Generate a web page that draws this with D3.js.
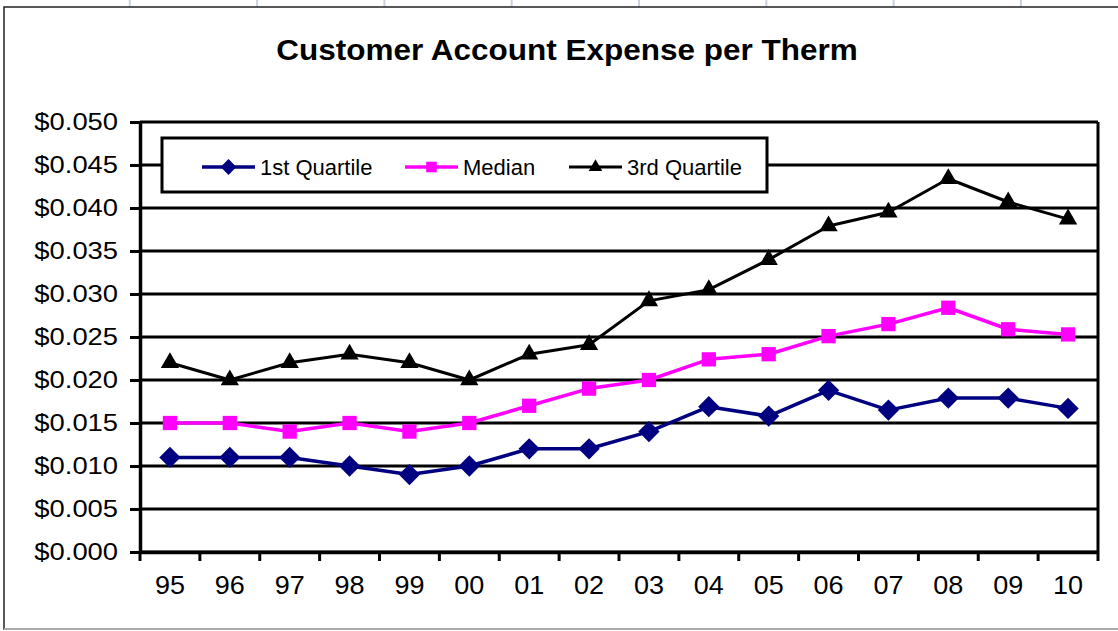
<!DOCTYPE html>
<html>
<head>
<meta charset="utf-8">
<script src="https://cdn.jsdelivr.net/npm/d3@7"></script>
<style>
  body { margin: 0; background: #fff; }
  svg { display: block; font-family: "Liberation Sans", Arial, sans-serif; }
</style>
</head>
<body>
<svg id="chart" width="1118" height="631"></svg>
<script>
// Chart data
const years = ["95", "96", "97", "98", "99", "00", "01", "02", "03", "04", "05", "06", "07", "08", "09", "10"];
const firstQuartile = [0.011, 0.011, 0.011, 0.010, 0.009, 0.010, 0.012, 0.012, 0.014, 0.0169, 0.0158, 0.0188, 0.0165, 0.0179, 0.0179, 0.0167];
const median = [0.015, 0.015, 0.014, 0.015, 0.014, 0.015, 0.017, 0.019, 0.020, 0.0224, 0.0230, 0.0251, 0.0265, 0.0284, 0.0259, 0.0253];
const thirdQuartile = [0.022, 0.020, 0.022, 0.023, 0.022, 0.020, 0.023, 0.0241, 0.0292, 0.0305, 0.0340, 0.0379, 0.0395, 0.0434, 0.0407, 0.0387];
const yTicks = [0, 0.005, 0.01, 0.015, 0.02, 0.025, 0.03, 0.035, 0.04, 0.045, 0.05];

const series = [
  { name: "1st Quartile", values: firstQuartile, color: "#000080", width: 3.5, symbol: d3.symbolDiamond2, size: 290 },
  { name: "Median", values: median, color: "#ff00ff", width: 3.5, symbol: d3.symbolSquare2, size: 260 },
  { name: "3rd Quartile", values: thirdQuartile, color: "#000000", width: 3, symbol: d3.symbolTriangle2, size: 240 },
];

const svg = d3.select("#chart");
const margin = { top: 122, right: 20, bottom: 79, left: 140 };
const width = 1098 - margin.left;
const height = 552 - margin.top;

// Spreadsheet cells behind the chart
svg.selectAll(".cell")
  .data(d3.range(1, 9))
  .join("line")
  .attr("x1", (i) => 2.5 + i * 127.3)
  .attr("x2", (i) => 2.5 + i * 127.3)
  .attr("y1", 0)
  .attr("y2", 7)
  .attr("stroke", "#c9d1e3")
  .attr("stroke-width", 2);

// Chart frame
svg.append("rect")
  .attr("x", 4).attr("y", 7)
  .attr("width", 1130).attr("height", 622)
  .attr("fill", "#fff")
  .attr("stroke", "#222")
  .attr("stroke-width", 1.5);
svg.append("line")
  .attr("x1", 4).attr("x2", 1118).attr("y1", 629).attr("y2", 629)
  .attr("stroke", "#aaa").attr("stroke-width", 2);

// Title
svg.append("text")
  .attr("transform", "translate(567,60) scale(1.05,1)")
  .attr("text-anchor", "middle")
  .attr("font-size", 30)
  .attr("font-weight", "bold")
  .text("Customer Account Expense per Therm");

const g = svg.append("g").attr("transform", `translate(${margin.left},${margin.top})`);

const x = d3.scaleBand().domain(years).range([0, width]).padding(0);
const y = d3.scaleLinear().domain([0, 0.05]).range([height, 0]);
const cx = (d) => x(d) + x.bandwidth() / 2;

// Gridlines
g.append("g")
  .selectAll("line")
  .data(yTicks)
  .join("line")
  .attr("x1", 0)
  .attr("x2", width)
  .attr("y1", (d) => y(d))
  .attr("y2", (d) => y(d))
  .attr("stroke", "#000")
  .attr("stroke-width", 3);

// Right border of plot
g.append("line")
  .attr("x1", width).attr("x2", width)
  .attr("y1", 0).attr("y2", height)
  .attr("stroke", "#000").attr("stroke-width", 3);

// Y axis
const yAxis = g.append("g")
  .call(d3.axisLeft(y).tickValues(yTicks).tickSize(10).tickSizeOuter(0).tickFormat(d3.format("$.3f")));
yAxis.select(".domain").attr("stroke-width", 3.5);
yAxis.selectAll(".tick line").attr("stroke-width", 3);
yAxis.selectAll(".tick text")
  .attr("font-size", 24)
  .attr("fill", "#000")
  .attr("x", -22 / 1.14)
  .attr("transform", "scale(1.14,1)");

// X axis: boundary ticks + centred labels
g.append("g")
  .selectAll("line")
  .data(years.map((d) => x(d)).concat([width]))
  .join("line")
  .attr("x1", (d) => d).attr("x2", (d) => d)
  .attr("y1", height).attr("y2", height + 9)
  .attr("stroke", "#000").attr("stroke-width", 3);

const xAxis = g.append("g")
  .attr("transform", `translate(0,${height})`)
  .call(d3.axisBottom(x).tickSize(0).tickSizeOuter(0));
xAxis.select(".domain").attr("stroke", "#000").attr("stroke-width", 3.5);
xAxis.selectAll(".tick text")
  .attr("font-size", 25)
  .attr("fill", "#000")
  .attr("dy", null)
  .attr("y", 42)
  .attr("transform", "scale(1.08,1)");

// Lines and markers
const line = d3.line()
  .x((d, i) => cx(years[i]))
  .y((d) => y(d));

series.forEach((s) => {
  g.append("path")
    .datum(s.values)
    .attr("fill", "none")
    .attr("stroke", s.color)
    .attr("stroke-width", s.width)
    .attr("stroke-linejoin", "round")
    .attr("d", line);

  g.selectAll(null)
    .data(s.values)
    .join("path")
    .attr("transform", (d, i) => `translate(${cx(years[i])},${y(d)})`)
    .attr("fill", s.color)
    .attr("d", d3.symbol().type(s.symbol).size(s.size));
});

// Legend
const legend = svg.append("g");
legend.append("rect")
  .attr("x", 162).attr("y", 138)
  .attr("width", 605).attr("height", 54)
  .attr("fill", "#fff")
  .attr("stroke", "#000")
  .attr("stroke-width", 3);

const legendX = [202, 405, 569];
series.forEach((s, i) => {
  const lg = legend.append("g").attr("transform", `translate(${legendX[i]},167)`);
  lg.append("line")
    .attr("x1", 0).attr("x2", 53)
    .attr("stroke", s.color)
    .attr("stroke-width", s.width);
  lg.append("path")
    .attr("transform", "translate(26.5,0)")
    .attr("fill", s.color)
    .attr("d", d3.symbol().type(s.symbol).size(s.size * 0.55));
  lg.append("text")
    .attr("x", 58)
    .attr("dy", "0.36em")
    .attr("font-size", 22)
    .attr("fill", "#000")
    .text(s.name);
});
</script>
</body>
</html>
